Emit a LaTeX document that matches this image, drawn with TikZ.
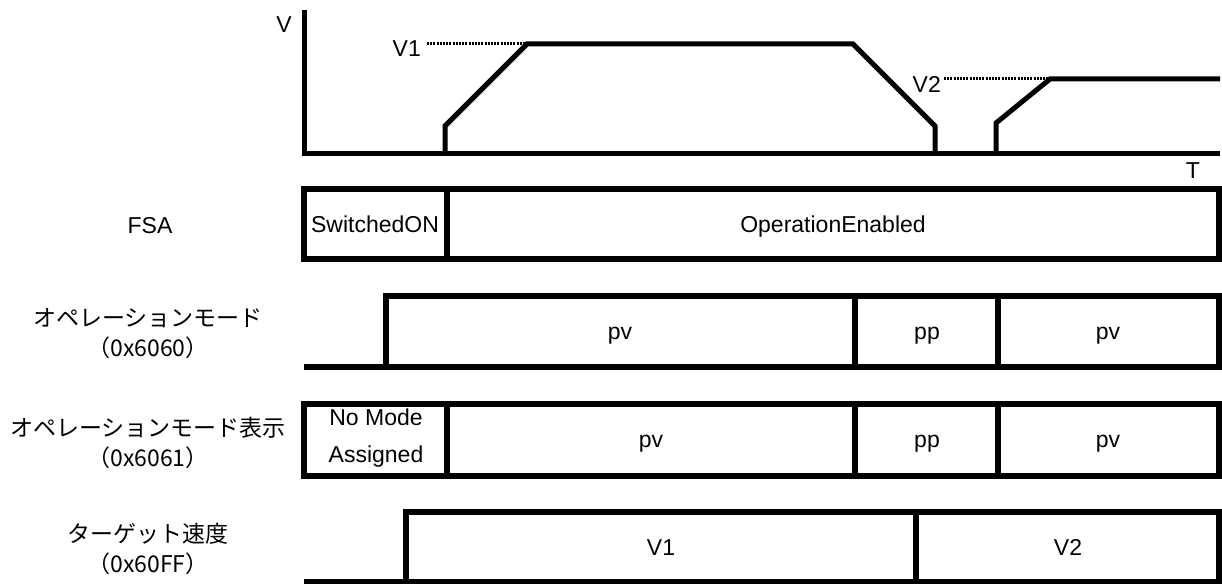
\documentclass[tikz,border=0pt]{standalone}
\usepackage{fontspec}
\setmainfont{Liberation Sans}
\newfontfamily\jpfont{Noto Sans CJK JP}
\begin{document}
\begin{tikzpicture}[x=1pt,y=-1pt,
    wave/.style={line width=5.5pt},
    guide/.style={line width=3pt,dash pattern=on 2pt off 1.2pt},
    txt/.style={inner sep=0pt,font=\fontsize{23}{30}\selectfont},
    jp/.style={inner sep=0pt,align=center,font=\jpfont\fontsize{23}{30}\selectfont}]
      \useasboundingbox (0,0) rectangle (1222,583);
      \node[txt,anchor=base] (vaxis) at (284,33) {V};
      \node[txt,anchor=base] (taxis) at (1193,178) {T};
      \node[txt,anchor=base east] (vone) at (421,57) {V1};
      \node[txt,anchor=base east] (vtwo) at (941,93) {V2};
      \coordinate (v1top) at (527,44);
      \coordinate (v2top) at (1050,79);
      \draw[line width=5pt] (304,10) -- (304,153) -- (1220,153);
      \draw[line width=5pt] (445,153) -- (445,126) -- (v1top) -- (853,44) -- (935,126) -- (935,153);
      \draw[line width=5pt] (996,153) -- (996,123) -- (v2top) -- (1220,79);
      \draw[guide] ([xshift=6pt]vone.east |- v1top) -- (v1top);
      \draw[guide] ([xshift=3pt]vtwo.east |- v2top) -- (v2top);
      \node[txt,anchor=base] (fsa) at (150,233) {FSA};
      \draw[wave] (304,189) rectangle (1219,259);
      \draw[wave] (447,189) -- (447,259);
      \node[txt,anchor=base] (sw) at (375,232) {SwitchedON};
      \node[txt,anchor=base] (openab) at (833,232) {OperationEnabled};
      \node[jp] (opmode) at (148,334) {オペレーションモード\\（0x6060）};
      \draw[wave] (304,367) -- (1219,367) -- (1219,296) -- (386,296) -- (386,367);
      \draw[wave] (855,296) -- (855,367);
      \draw[wave] (998,296) -- (998,367);
      \node[txt,anchor=base] (m1) at (620,339) {pv};
      \node[txt,anchor=base] (m2) at (927,339) {pp};
      \node[txt,anchor=base] (m3) at (1108,339) {pv};
      \node[jp] (opdisp) at (148,443) {オペレーションモード表示\\（0x6061）};
      \draw[wave] (304,404) rectangle (1219,476);
      \draw[wave] (447,404) -- (447,476);
      \draw[wave] (855,404) -- (855,476);
      \draw[wave] (998,404) -- (998,476);
      \node[txt,align=center,font=\fontsize{23}{37}\selectfont] (d0) at (376,438) {No Mode\\Assigned};
      \node[txt,anchor=base] (d1) at (651,447) {pv};
      \node[txt,anchor=base] (d2) at (927,447) {pp};
      \node[txt,anchor=base] (d3) at (1108,447) {pv};
      \node[jp] (tgtvel) at (148,549) {ターゲット速度\\（0x60FF）};
      \draw[wave] (304,582) -- (1219,582) -- (1219,512) -- (406,512) -- (406,582);
      \draw[wave] (916,512) -- (916,582);
      \node[txt,anchor=base] (t1) at (661,555) {V1};
      \node[txt,anchor=base] (t2) at (1068,555) {V2};
\end{tikzpicture}
\end{document}
